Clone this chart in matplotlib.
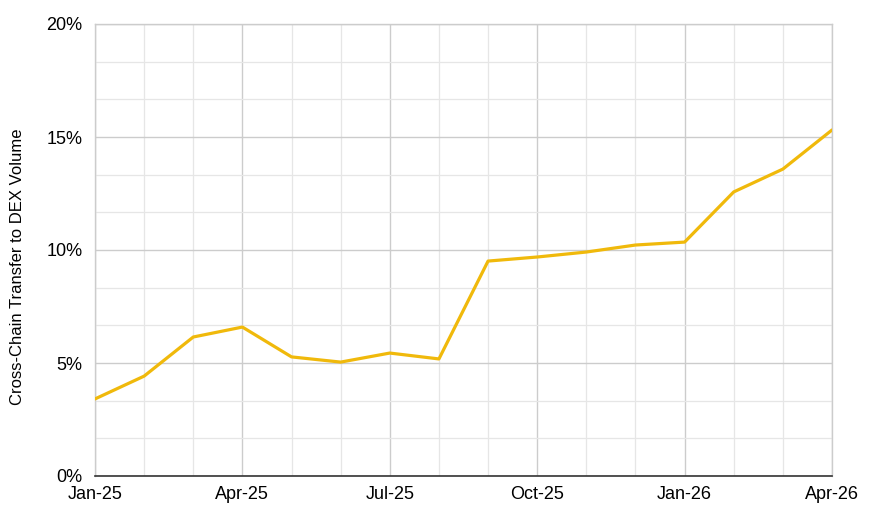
import matplotlib
matplotlib.use("Agg")
import matplotlib.pyplot as plt
from matplotlib.ticker import MultipleLocator, FuncFormatter, FixedLocator

plt.rcParams['font.family'] = ['Liberation Sans', 'DejaVu Sans']

months = ["Jan-25", "Feb-25", "Mar-25", "Apr-25", "May-25", "Jun-25", "Jul-25", "Aug-25",
          "Sep-25", "Oct-25", "Nov-25", "Dec-25", "Jan-26", "Feb-26", "Mar-26", "Apr-26"]
ratio = [3.41, 4.42, 6.15, 6.59, 5.27, 5.04, 5.44, 5.18,
         9.51, 9.69, 9.91, 10.22, 10.35, 12.57, 13.58, 15.31]

fig = plt.figure(figsize=(8.71, 5.12), dpi=100)
ax = fig.add_axes([95/871, 1 - 476/512, (832-95)/871, (476-24)/512])

x = list(range(len(months)))
ax.plot(x, ratio, color="#F0B90B", lw=2.3, zorder=3, solid_capstyle='round')

ax.set_xlim(0, len(months) - 1)
ax.set_ylim(0, 20)

major_x = [i for i in x if i % 3 == 0]
ax.xaxis.set_major_locator(FixedLocator(major_x))
ax.xaxis.set_minor_locator(FixedLocator([i for i in x if i % 3 != 0]))
ax.set_xticklabels([months[i] for i in major_x])
ax.yaxis.set_major_locator(MultipleLocator(5))
ax.yaxis.set_minor_locator(MultipleLocator(5/3))
ax.yaxis.set_major_formatter(FuncFormatter(lambda v, p: f"{v:.0f}%"))

ax.grid(which='major', color='#cccccc', lw=1.0, zorder=0)
ax.grid(which='minor', color='#e6e6e6', lw=0.9, zorder=0)
ax.tick_params(which='both', length=0, labelsize=13, colors='#000000')
ax.tick_params(axis='x', pad=7)
ax.tick_params(axis='y', pad=9)

for s in ['top', 'right', 'left']:
    ax.spines[s].set_color('#cccccc')
    ax.spines[s].set_linewidth(1.0)
ax.spines['bottom'].set_color('#333333')
ax.spines['bottom'].set_linewidth(1.2)

ax.set_ylabel("Cross-Chain Transfer to DEX Volume", fontsize=12, labelpad=14)
ax.yaxis.set_label_coords(-0.095, 0.462)

fig.savefig("out.png", dpi=100)
